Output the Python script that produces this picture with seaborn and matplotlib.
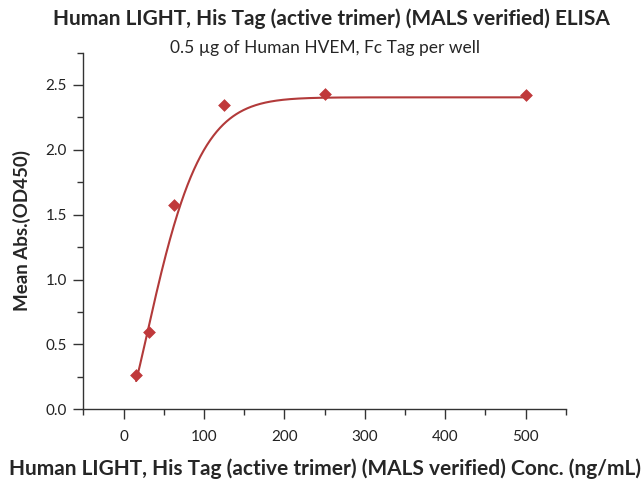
import numpy as np
import pandas as pd
import matplotlib
matplotlib.use("Agg")
import matplotlib.pyplot as plt
import seaborn as sns
from matplotlib.ticker import MultipleLocator

conc = [15.625, 31.25, 62.5, 125, 250, 500]
od450 = [0.264, 0.598, 1.575, 2.346, 2.431, 2.423]

# lecturas de la curva ajustada del grafico original
curva_x = [15.625, 31.25, 46, 62.5, 87.5, 125, 171, 221, 250, 350, 500]
curva_y = [0.25, 0.60, 0.95, 1.51, 1.88, 2.13, 2.32, 2.40, 2.415, 2.425, 2.425]

title = "Human LIGHT, His Tag (active trimer) (MALS verified) ELISA"
subtitle = "0.5 \u00b5g of Human HVEM, Fc Tag per well"
xlabel = "Human LIGHT, His Tag (active trimer) (MALS verified) Conc. (ng/mL)"
ylabel = "Mean Abs.(OD450)"

df = pd.DataFrame({"conc": conc, "od": od450})

# ajuste tipo Weibull: y = d + a*(1-exp(-(x/c)^b)), rejilla en (c, b)
x = np.array(curva_x, dtype=float)
y = np.array(curva_y, dtype=float)
best = None
for c in np.linspace(20, 150, 261):
    for b in np.linspace(0.5, 4, 141):
        g = 1.0 - np.exp(-(x / c) ** b)
        A = np.column_stack([np.ones_like(g), g])
        coef, *_ = np.linalg.lstsq(A, y, rcond=None)
        err = np.sum((A @ coef - y) ** 2)
        if best is None or err < best[0]:
            best = (err, c, b, coef)
_, c, b, coef = best
xf = np.linspace(min(conc), max(conc), 600)
yf = coef[0] + coef[1] * (1.0 - np.exp(-(xf / c) ** b))
fit = pd.DataFrame({"conc": xf, "od": yf})

sns.set_style("ticks")
plt.rcParams["font.family"] = ["Lato", "DejaVu Sans"]

fig = plt.figure(figsize=(6.43, 4.82), dpi=100)
ax = fig.add_axes([0.1296, 0.151, 0.7504, 0.74])

sns.lineplot(data=fit, x="conc", y="od", ax=ax, color="#b23a3a", linewidth=1.5)
sns.scatterplot(data=df, x="conc", y="od", ax=ax, marker="D", s=36,
                color="#c0393b", edgecolor="#c0393b", zorder=3)

ax.set_xlim(-50, 550)
ax.set_ylim(0, 2.75)
ax.xaxis.set_major_locator(MultipleLocator(100))
ax.xaxis.set_minor_locator(MultipleLocator(50))
ax.yaxis.set_major_locator(MultipleLocator(0.5))
ax.yaxis.set_minor_locator(MultipleLocator(0.25))
ax.yaxis.set_major_formatter(matplotlib.ticker.FormatStrFormatter("%.1f"))
ax.tick_params(which="major", length=7, width=1, color="#333333", labelsize=11, labelcolor="#222222")
ax.tick_params(which="minor", length=4, width=1, color="#333333")
ax.tick_params(axis="x", which="major", pad=8)
ax.tick_params(axis="y", which="major", pad=5)
for s in ["left", "bottom"]:
    ax.spines[s].set_color("#333333")
    ax.spines[s].set_linewidth(1)
sns.despine(ax=ax)

ax.set_xlabel(xlabel, fontsize=15, fontweight="bold", labelpad=10)
ax.set_ylabel(ylabel, fontsize=13.5, fontweight="bold", labelpad=10)
fig.text(0.515, 0.962, title, ha="center", va="center", fontsize=15, fontweight="bold")
fig.text(0.506, 0.9, subtitle, ha="center", va="center", fontsize=12.5)

fig.savefig("out.png", dpi=100)
